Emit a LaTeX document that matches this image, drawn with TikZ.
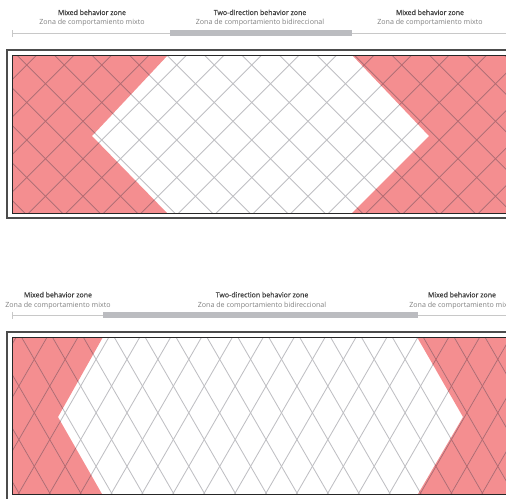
\documentclass[tikz,border=0pt]{standalone}
\usepackage{fontspec}
\setmainfont{Open Sans}
\newfontfamily\zsemib[FakeBold=0.35]{Open Sans}
\definecolor{zred}{HTML}{F48E90}
\definecolor{gridgray}{HTML}{BFBFC3}
\definecolor{griddark}{HTML}{BF646B}
\definecolor{bargray}{HTML}{BBBCC0}
\definecolor{thingray}{HTML}{C8C8C8}
\definecolor{ttlcol}{HTML}{3E3E3E}
\definecolor{subcol}{HTML}{7E7E7E}
\tikzset{
  ttl/.style={font=\zsemib\fontsize{7}{7}\selectfont, text=ttlcol, anchor=base, inner sep=0pt},
  subl/.style={font=\fontsize{7.1}{7}\selectfont, text=subcol, anchor=base, inner sep=0pt},
  gridl/.style={draw=gridgray, line width=0.85pt},
  griddk/.style={draw=griddark, line width=0.85pt},
  thinline/.style={draw=thingray, line width=0.8pt},
  barline/.style={draw=bargray, line width=6pt},
  outerframe/.style={draw=black!70, line width=1.3pt},
  innerframe/.style={draw=black!85, line width=0.9pt},
}
\begin{document}
\begin{tikzpicture}[x=1pt,y=-1pt]
\useasboundingbox (0,0) rectangle (506,498);
\clip (0,0) rectangle (506,498);

% ===== TOP DIAGRAM =====
\node[ttl] (tA) at (92,15) {Mixed behavior zone};
\node[subl] (sA) at (92,24) {Zona de comportamiento mixto};
\node[ttl] (tB) at (260,15) {Two-direction behavior zone};
\node[subl] (sB) at (260,24) {Zona de comportamiento bidireccional};
\node[ttl] (tC) at (430,15) {Mixed behavior zone};
\node[subl] (sC) at (430,24) {Zona de comportamiento mixto};

\coordinate (lA) at (12.3,33.3);
\coordinate (lB) at (508,33.3);
\coordinate (bA) at (170,33.3);
\coordinate (bB) at (352,33.3);
\draw[thinline] (lA) -- (lB);
\draw[thinline] (12.3,30) -- (12.3,36.5);
\draw[barline] (bA) -- (bB);

% red zones
\fill[zred] (12.5,55) -- (168,55) -- (92,136) -- (167,213) -- (12.5,213) -- cycle;
\fill[zred] (352,55) -- (429,136) -- (352,213) -- (508,213) -- (508,55) -- cycle;
% grid
\begin{scope}
  \clip (12.5,55) rectangle (508,213);
  \foreach \k in {-8,...,20} {
    \pgfmathsetmacro\xo{26.7+37.5*\k}
    \draw[gridl] (\xo-200,65-200) -- (\xo+200,65+200);
    \draw[gridl] (\xo-200,65+200) -- (\xo+200,65-200);
  }
\end{scope}
\begin{scope}
  \clip (12.5,55) -- (168,55) -- (92,136) -- (167,213) -- (12.5,213) -- cycle
        (352,55) -- (429,136) -- (352,213) -- (508,213) -- (508,55) -- cycle;
  \foreach \k in {-8,...,20} {
    \pgfmathsetmacro\xo{26.7+37.5*\k}
    \draw[griddk] (\xo-200,65-200) -- (\xo+200,65+200);
    \draw[griddk] (\xo-200,65+200) -- (\xo+200,65-200);
  }
\end{scope}
\draw[outerframe] (7,50) rectangle (513,218);
\draw[innerframe] (12.5,55) rectangle (508,213);

% ===== BOTTOM DIAGRAM =====
\node[ttl] (tD) at (58,297.3) {Mixed behavior zone};
\node[subl] (sD) at (58,307.3) {Zona de comportamiento mixto};
\node[ttl] (tE) at (262,297.3) {Two-direction behavior zone};
\node[subl] (sE) at (262,307.3) {Zona de comportamiento bidireccional};
\node[ttl] (tF) at (462,297.3) {Mixed behavior zone};
\node[subl] (sF) at (462,307.3) {Zona de comportamiento mixto};

\coordinate (lD) at (12.3,315);
\coordinate (lE) at (508,315);
\coordinate (bD) at (103,315);
\coordinate (bE) at (418,315);
\draw[thinline] (lD) -- (lE);
\draw[thinline] (12.3,311.5) -- (12.3,318.5);
\draw[barline] (bD) -- (bE);

\fill[zred] (12.3,337) -- (103,337) -- (58,417) -- (102,494) -- (12.3,494) -- cycle;
\fill[zred] (417,337) -- (463,417) -- (418,494) -- (508,494) -- (508,337) -- cycle;
\begin{scope}
  \clip (12.3,337) rectangle (508,494);
  \foreach \k in {-10,...,16} {
    \pgfmathsetmacro\xo{127+30.9*\k}
    \draw[gridl] (\xo-110,359.3-190.5) -- (\xo+110,359.3+190.5);
    \draw[gridl] (\xo-110,359.3+190.5) -- (\xo+110,359.3-190.5);
  }
\end{scope}
\begin{scope}
  \clip (12.3,337) -- (103,337) -- (58,417) -- (102,494) -- (12.3,494) -- cycle
        (417,337) -- (463,417) -- (418,494) -- (508,494) -- (508,337) -- cycle;
  \foreach \k in {-10,...,16} {
    \pgfmathsetmacro\xo{127+30.9*\k}
    \draw[griddk] (\xo-110,359.3-190.5) -- (\xo+110,359.3+190.5);
    \draw[griddk] (\xo-110,359.3+190.5) -- (\xo+110,359.3-190.5);
  }
\end{scope}
\draw[outerframe] (7,332) rectangle (513,499.5);
\draw[innerframe] (12.3,337) rectangle (508,494);
\end{tikzpicture}
\end{document}
